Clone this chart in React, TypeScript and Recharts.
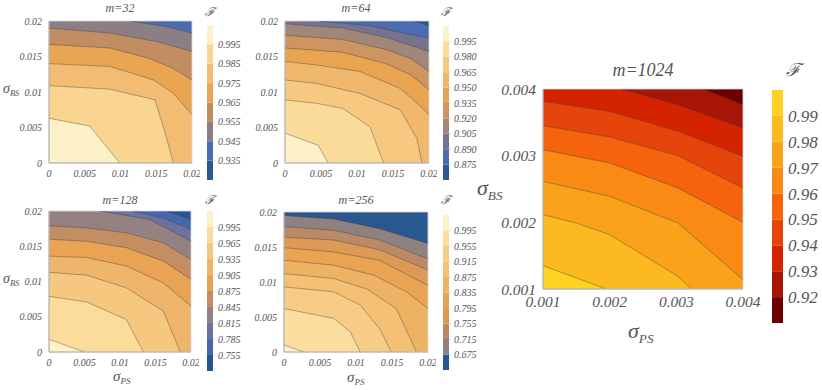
import React from 'react';
import { ComposedChart, Area, Line, XAxis, YAxis, ReferenceArea, BarChart, Bar } from 'recharts';

type Pt = [number, number];

const smallTicks = [0, 0.005, 0.01, 0.015, 0.02];
const bigTicks = [0.001, 0.002, 0.003, 0.004];

// contour levels (colorbar boundaries), contour polylines per level, band colours low -> high
const m32Levels = [0.935, 0.945, 0.955, 0.965, 0.975, 0.985, 0.995];
const m32Contours: Pt[][] = [
  [],
  [[0.0113, 0.02], [0.0165, 0.0192], [0.02, 0.0183]],
  [[0, 0.019], [0.0085, 0.0183], [0.0151, 0.0171], [0.02, 0.0157]],
  [[0, 0.0167], [0.0085, 0.0162], [0.0141, 0.0147], [0.0174, 0.0133], [0.02, 0.0117]],
  [[0, 0.014], [0.0085, 0.0136], [0.0146, 0.0117], [0.0174, 0.0098], [0.02, 0.0068]],
  [[0, 0.0109], [0.0085, 0.0104], [0.0148, 0.0089], [0.016, 0.0051], [0.0174, 0]],
  [[0, 0.0063], [0.0057, 0.0052], [0.0099, 0]],
];
const m32Colors = ['#2c5891', '#4a6cb0', '#8b7f84', '#c38d64', '#e9a552', '#f2bd73', '#f9d590', '#fdf1c8'];

const m64Levels = [0.875, 0.89, 0.905, 0.92, 0.935, 0.95, 0.965, 0.98, 0.995];
const m64Contours: Pt[][] = [
  [[0.018, 0.02], [0.02, 0.0193]],
  [[0.0047, 0.02], [0.012, 0.0193], [0.0165, 0.0183], [0.02, 0.0176]],
  [[0, 0.0196], [0.008, 0.019], [0.014, 0.0177], [0.02, 0.0157]],
  [[0, 0.018], [0.008, 0.0174], [0.014, 0.016], [0.0175, 0.0147], [0.02, 0.0129]],
  [[0, 0.0162], [0.008, 0.0156], [0.014, 0.014], [0.0175, 0.0124], [0.02, 0.0103]],
  [[0, 0.0143], [0.0044, 0.0138], [0.0104, 0.0129], [0.016, 0.0105], [0.0188, 0.008], [0.02, 0.0068]],
  [[0, 0.0117], [0.0044, 0.0112], [0.0104, 0.0098], [0.016, 0.0075], [0.0183, 0.0035], [0.019, 0]],
  [[0, 0.0089], [0.0044, 0.0084], [0.008, 0.0077], [0.0118, 0.0051], [0.0137, 0]],
  [[0, 0.0042], [0.0046, 0.0025], [0.006, 0]],
];
const m64Colors = ['#2b5891', '#4b6cb0', '#77728f', '#a1877b', '#cf9560', '#e9a452', '#f0b86c', '#f6c880', '#fbdb99', '#fdf1c8'];

const m128Levels = [0.755, 0.785, 0.815, 0.845, 0.875, 0.905, 0.935, 0.965, 0.995];
const m128Contours: Pt[][] = [
  [[0.0166, 0.02], [0.02, 0.0188]],
  [[0.0119, 0.02], [0.016, 0.019], [0.02, 0.0174]],
  [[0.0072, 0.02], [0.0142, 0.0188], [0.02, 0.0157]],
  [[0, 0.0179], [0.0053, 0.0176], [0.0109, 0.0169], [0.0161, 0.0155], [0.02, 0.0131]],
  [[0, 0.016], [0.0053, 0.0157], [0.0109, 0.0148], [0.0161, 0.0129], [0.02, 0.0103]],
  [[0, 0.0136], [0.0053, 0.0134], [0.0109, 0.0122], [0.0161, 0.0098], [0.02, 0.0065]],
  [[0, 0.0113], [0.0053, 0.0109], [0.0109, 0.0091], [0.0161, 0.0058], [0.0185, 0]],
  [[0, 0.0079], [0.0053, 0.0071], [0.0109, 0.0046], [0.0133, 0]],
  [[0, 0.0018], [0.005, 0]],
];
const m128Colors = ['#28558f', '#4667ab', '#6c729f', '#938281', '#c48e63', '#e8a353', '#efb66b', '#f5c77f', '#fbdc9b', '#fdf1c8'];

const m256Levels = [0.675, 0.715, 0.755, 0.795, 0.835, 0.875, 0.915, 0.955, 0.995];
const m256Contours: Pt[][] = [
  [[0, 0.0195], [0.0069, 0.019], [0.0133, 0.0176], [0.02, 0.0155]],
  [[0, 0.0179], [0.0069, 0.0174], [0.0133, 0.016], [0.02, 0.0133]],
  [[0, 0.0164], [0.0069, 0.016], [0.0133, 0.0146], [0.02, 0.0117]],
  [[0, 0.0149], [0.0069, 0.0143], [0.0133, 0.0131], [0.02, 0.0095]],
  [[0, 0.0131], [0.0069, 0.0124], [0.0124, 0.011], [0.017, 0.0086], [0.02, 0.0062]],
  [[0, 0.0112], [0.0069, 0.0105], [0.0115, 0.009], [0.0156, 0.0062], [0.0184, 0]],
  [[0, 0.0093], [0.0069, 0.0086], [0.0106, 0.0067], [0.0133, 0.0033], [0.0149, 0]],
  [[0, 0.0062], [0.0069, 0.0048], [0.0092, 0.0029], [0.0106, 0]],
  [[0, 0.001], [0.0028, 0]],
];
const m256Colors = ['#2a5790', '#908181', '#ba8a68', '#dc9a56', '#e8a452', '#eeb264', '#f3c074', '#f7cc86', '#fbdd9d', '#fdf1c8'];

const m1024Levels = [0.92, 0.93, 0.94, 0.95, 0.96, 0.97, 0.98, 0.99];
const m1024Contours: Pt[][] = [
  [[0.0034, 0.004], [0.004, 0.003765]],
  [[0.002175, 0.004], [0.003025, 0.003765], [0.004, 0.003415]],
  [[0.001, 0.003815], [0.002, 0.003665], [0.003025, 0.003365], [0.004, 0.00299]],
  [[0.001, 0.00345], [0.002, 0.00328], [0.003025, 0.003], [0.004, 0.002515]],
  [[0.001, 0.00309], [0.002, 0.00289], [0.003025, 0.002515], [0.004, 0.002]],
  [[0.001, 0.002615], [0.002, 0.00239], [0.003025, 0.00199], [0.004, 0.00114]],
  [[0.001, 0.002115], [0.0015, 0.00199], [0.002, 0.001815], [0.003025, 0.00119], [0.003225, 0.001]],
  [[0.001, 0.00135], [0.00195, 0.001]],
];
const m1024Colors = ['#6b0000', '#a61506', '#d42300', '#e5450b', '#f5640c', '#fa8a14', '#faa21a', '#fcb920', '#fdd223'];

const SERIF = 'Liberation Serif';
const TXT = '#555';

const rows = (pts: Pt[]) => pts.map(([x, y]) => ({ x, y }));

interface PanelProps {
  contours: Pt[][];
  colors: string[];
  domain: [number, number];
  ticks: number[];
  left: number;
  top: number;
  width: number;
  height: number;
  margin: { top: number; right: number; bottom: number; left: number };
  yWidth: number;
  xHeight: number;
  fontSize: number;
  tickMargin: number;
}

function ContourPanel(p: PanelProps) {
  const [lo, hi] = p.domain;
  const first = p.contours.findIndex((c) => c.length > 0);
  const tickStyle = {
    fontSize: p.fontSize,
    fontStyle: 'italic',
    fontFamily: SERIF,
    fill: TXT,
    style: { fontFamily: SERIF, fontStyle: 'italic' },
  };
  return (
    <div style={{ position: 'absolute', left: p.left, top: p.top }}>
      <ComposedChart width={p.width} height={p.height} margin={p.margin}>
        <XAxis
          type="number"
          dataKey="x"
          domain={p.domain}
          ticks={p.ticks}
          interval={0}
          allowDataOverflow
          height={p.xHeight}
          tick={tickStyle}
          tickLine={false}
          tickSize={3}
          tickMargin={p.tickMargin}
          axisLine={{ stroke: '#aaa' }}
        />
        <YAxis
          type="number"
          domain={p.domain}
          ticks={p.ticks}
          interval={0}
          allowDataOverflow
          width={p.yWidth}
          tick={tickStyle}
          tickLine={false}
          tickSize={3}
          tickMargin={p.tickMargin}
          axisLine={{ stroke: '#aaa' }}
        />
        <Area
          data={[{ x: lo, y: hi }, { x: hi, y: hi }]}
          dataKey="y"
          type="linear"
          baseValue={lo}
          fill={p.colors[first]}
          fillOpacity={1}
          stroke="none"
          dot={false}
          activeDot={false}
          isAnimationActive={false}
        />
        {p.contours.map((pts, i) =>
          pts.length ? (
            <Area
              key={'a' + i}
              data={pts[0][0] > lo ? [{ x: lo, y: hi }, ...rows(pts)] : rows(pts)}
              dataKey="y"
              type="linear"
              baseValue={lo}
              fill={p.colors[i + 1]}
              fillOpacity={1}
              stroke="none"
              dot={false}
              activeDot={false}
              isAnimationActive={false}
            />
          ) : null
        )}
        {p.contours.map((pts, i) =>
          pts.length ? (
            <Line
              key={'l' + i}
              data={rows(pts)}
              dataKey="y"
              type="linear"
              stroke="#3a3a3a"
              strokeOpacity={0.65}
              strokeWidth={0.6}
              dot={false}
              activeDot={false}
              isAnimationActive={false}
            />
          ) : null
        )}
        <ReferenceArea x1={lo} x2={hi} y1={lo} y2={hi} fill="none" stroke="#d8d8d8" strokeWidth={0.8} />
      </ComposedChart>
    </div>
  );
}

interface BarProps {
  levels: number[];
  colors: string[];
  digits: number;
  left: number;
  top: number;
  barWidth: number;
  height: number;
  fontSize: number;
}

function ColorBar(p: BarProps) {
  const row: Record<string, number | string> = { name: 'F' };
  p.colors.forEach((_, i) => (row['b' + i] = 1));
  const axisW = 50;
  return (
    <div style={{ position: 'absolute', left: p.left, top: p.top }}>
      <BarChart
        width={p.barWidth + axisW}
        height={p.height}
        data={[row]}
        margin={{ top: 0, right: 0, bottom: 0, left: 0 }}
        barCategoryGap={0}
      >
        <XAxis dataKey="name" hide />
        <YAxis
          orientation="right"
          type="number"
          domain={[0, p.colors.length]}
          ticks={p.levels.map((_, i) => i + 1)}
          interval={0}
          tickFormatter={(v: number) => p.levels[v - 1].toFixed(p.digits)}
          width={axisW}
          axisLine={false}
          tickLine={{ stroke: '#ddd' }}
          tickSize={2}
          tickMargin={3}
          tick={{
            fontSize: p.fontSize,
            fontStyle: 'italic',
            fontFamily: SERIF,
            fill: TXT,
            textAnchor: 'start',
            style: { fontFamily: SERIF, fontStyle: 'italic' },
          }}
        />
        {p.colors.map((c, i) => (
          <Bar key={i} dataKey={'b' + i} stackId="s" fill={c} isAnimationActive={false} />
        ))}
      </BarChart>
    </div>
  );
}

function Label({ text, x, y, size }: { text: string; x: number; y: number; size: number }) {
  return (
    <div
      style={{
        position: 'absolute',
        left: x,
        top: y - size / 2,
        transform: 'translateX(-50%)',
        fontFamily: SERIF,
        fontStyle: 'italic',
        fontSize: size,
        lineHeight: 1,
        color: TXT,
        whiteSpace: 'nowrap',
      }}
    >
      {text}
    </div>
  );
}

function Sigma({ sub, x, y, size }: { sub: string; x: number; y: number; size: number }) {
  return (
    <div
      style={{
        position: 'absolute',
        left: x,
        top: y - size * 0.6,
        fontFamily: SERIF,
        fontStyle: 'italic',
        fontSize: size,
        lineHeight: 1,
        color: TXT,
        whiteSpace: 'nowrap',
      }}
    >
      σ<span style={{ fontSize: size * 0.6, position: 'relative', top: size * 0.22 }}>{sub}</span>
    </div>
  );
}

export default function App() {
  const smallMargin = { top: 21, right: 8, bottom: 2, left: 0 };
  return (
    <div
      style={{
        position: 'absolute',
        left: 0,
        top: 0,
        width: 822,
        height: 390,
        background: '#fff',
        overflow: 'hidden',
        fontFamily: SERIF,
        fontStyle: 'italic',
      }}
    >
      <ContourPanel contours={m32Contours} colors={m32Colors} domain={[0, 0.02]} ticks={smallTicks}
        left={0} top={0} width={200} height={185} margin={smallMargin} yWidth={49} xHeight={20} fontSize={10} tickMargin={4} />
      <ContourPanel contours={m64Contours} colors={m64Colors} domain={[0, 0.02]} ticks={smallTicks}
        left={236} top={0} width={201} height={185} margin={smallMargin} yWidth={49} xHeight={20} fontSize={10} tickMargin={4} />
      <ContourPanel contours={m128Contours} colors={m128Colors} domain={[0, 0.02]} ticks={smallTicks}
        left={0} top={190} width={199} height={184} margin={smallMargin} yWidth={49} xHeight={20} fontSize={10} tickMargin={4} />
      <ContourPanel contours={m256Contours} colors={m256Colors} domain={[0, 0.02]} ticks={smallTicks}
        left={235} top={191} width={201} height={183} margin={smallMargin} yWidth={49} xHeight={20} fontSize={10} tickMargin={4} />
      <ContourPanel contours={m1024Contours} colors={m1024Colors} domain={[0.001, 0.004]} ticks={bigTicks}
        left={483} top={50} width={290} height={271} margin={{ top: 39, right: 30, bottom: 2, left: 0 }}
        yWidth={60} xHeight={30} fontSize={15.5} tickMargin={4} />

      <ColorBar levels={m32Levels} colors={m32Colors} digits={3} left={207} top={25} barWidth={6} height={155} fontSize={10} />
      <ColorBar levels={m64Levels} colors={m64Colors} digits={3} left={443} top={26} barWidth={6} height={154} fontSize={10} />
      <ColorBar levels={m128Levels} colors={m128Colors} digits={3} left={207} top={211} barWidth={6} height={160} fontSize={10} />
      <ColorBar levels={m256Levels} colors={m256Colors} digits={3} left={443} top={215} barWidth={6} height={155} fontSize={10} />
      <ColorBar levels={m1024Levels} colors={m1024Colors} digits={2} left={772} top={90} barWidth={11} height={233} fontSize={17} />

      <Label text="m=32" x={120} y={8} size={12} />
      <Label text="m=64" x={356} y={8} size={12} />
      <Label text="m=128" x={120} y={200} size={12} />
      <Label text="m=256" x={356} y={200} size={12} />
      <Label text="m=1024" x={643} y={70} size={18} />

      <Label text="ℱ" x={210} y={12} size={12} />
      <Label text="ℱ" x={446} y={12} size={12} />
      <Label text="ℱ" x={210} y={200} size={12} />
      <Label text="ℱ" x={446} y={200} size={12} />
      <Label text="ℱ" x={793} y={70} size={18} />

      <Sigma sub="BS" x={3} y={90} size={14} />
      <Sigma sub="BS" x={3} y={280} size={14} />
      <Sigma sub="PS" x={113} y={378} size={15} />
      <Sigma sub="PS" x={347} y={379} size={15} />
      <Sigma sub="BS" x={477} y={190} size={22} />
      <Sigma sub="PS" x={628} y={333} size={22} />
    </div>
  );
}
